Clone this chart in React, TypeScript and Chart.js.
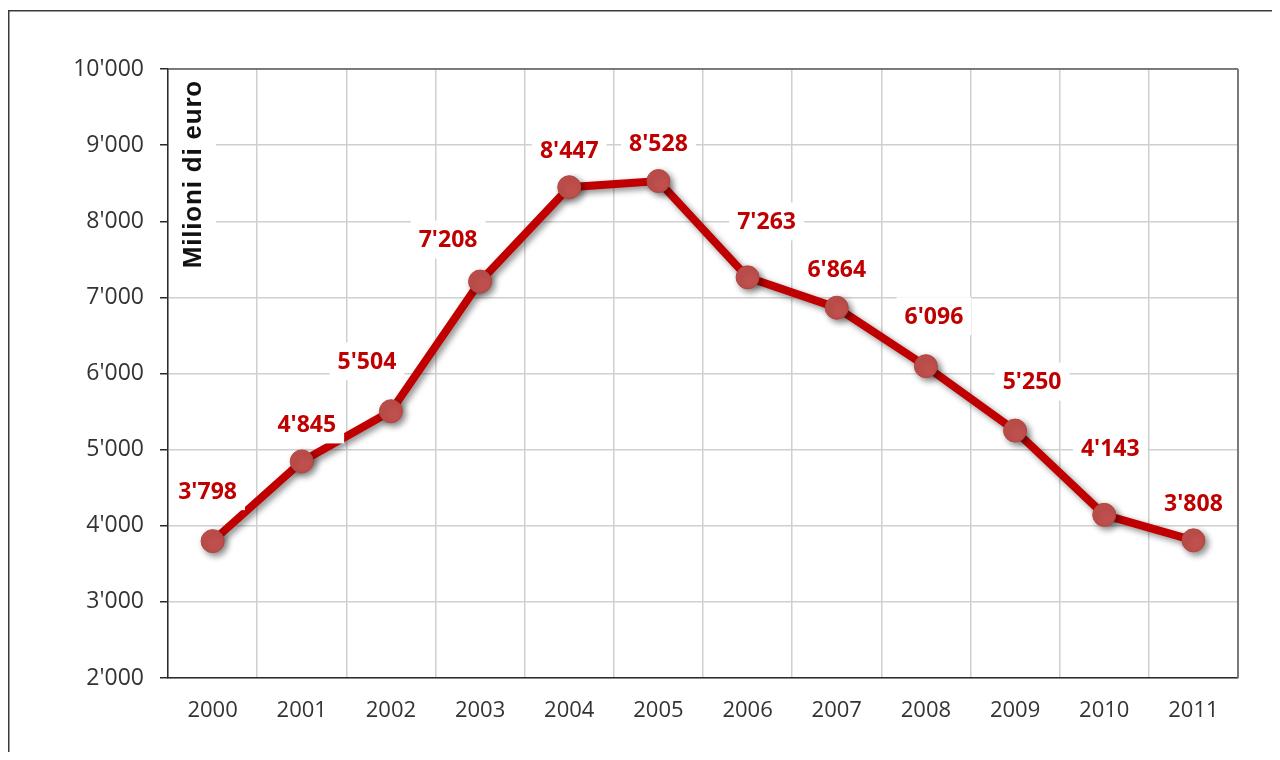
import React, { useEffect, useRef } from "react";
import { Chart, registerables } from "chart.js";

Chart.register(...registerables);

const years = ["2000", "2001", "2002", "2003", "2004", "2005", "2006", "2007", "2008", "2009", "2010", "2011"];
const values = [3798, 4845, 5504, 7208, 8447, 8528, 7263, 6864, 6096, 5250, 4143, 3808];
const yMin = 2000;
const yMax = 10000;
const yStep = 1000;
const yTitle = "Milioni di euro";
// label offsets relative to each point (styling, not data)
const labelDx = [-5, 5, -24, -32, 0, 0, 19, 0, 8, 17, 6, 0];
const labelDy = [-50, -37, -50, -42, -37, -38, -56, -38, -50, -49, -66, -37];

const fmt = (v: number) => String(v).replace(/\B(?=(\d{3})+(?!\d))/g, "'");

const W = 1264;
const H = 752;
const BOX_H = 744;

const decorPlugin = {
  id: "decor",
  beforeDraw(chart: any) {
    const ctx = chart.ctx;
    ctx.save();
    ctx.fillStyle = "#ffffff";
    ctx.fillRect(0, 0, W, H);
    ctx.strokeStyle = "#3a3a3a";
    ctx.lineWidth = 1.5;
    ctx.beginPath();
    ctx.moveTo(0.75, H);
    ctx.lineTo(0.75, 2.75);
    ctx.lineTo(W, 2.75);
    ctx.stroke();
    ctx.restore();
  },
  beforeDatasetsDraw(chart: any) {
    const ctx = chart.ctx;
    const a = chart.chartArea;
    ctx.save();
    ctx.lineWidth = 1.5;
    ctx.strokeStyle = "#5a5a5a";
    ctx.beginPath();
    ctx.moveTo(a.left, a.top);
    ctx.lineTo(a.right, a.top);
    ctx.stroke();
    ctx.strokeStyle = "#7a7a7a";
    ctx.lineWidth = 2;
    ctx.beginPath();
    ctx.moveTo(a.right, a.top);
    ctx.lineTo(a.right, a.bottom);
    ctx.stroke();
    ctx.fillStyle = "#ffffff";
    ctx.fillRect(a.left + 1, a.top + 2, 47, 210);
    ctx.translate(a.left + 26, a.top + 11);
    ctx.rotate(-Math.PI / 2);
    ctx.font = "bold 26px 'Liberation Sans', Arial, sans-serif";
    (ctx as any).letterSpacing = "0.8px";
    ctx.fillStyle = "#111111";
    ctx.textAlign = "right";
    ctx.textBaseline = "middle";
    ctx.fillText(yTitle, 0, 0);
    ctx.restore();
  },
  beforeDatasetDraw(chart: any) {
    const ctx = chart.ctx;
    ctx.save();
    ctx.shadowColor = "rgba(0,0,0,0.45)";
    ctx.shadowBlur = 6;
    ctx.shadowOffsetX = 3;
    ctx.shadowOffsetY = 3;
  },
  afterDatasetDraw(chart: any) {
    chart.ctx.restore();
  },
  afterDatasetsDraw(chart: any) {
    const ctx = chart.ctx;
    const meta = chart.getDatasetMeta(0);
    ctx.save();
    ctx.font = "bold 23px 'Open Sans', sans-serif";
    ctx.textAlign = "center";
    ctx.textBaseline = "middle";
    meta.data.forEach((pt: any, i: number) => {
      const txt = fmt(values[i]);
      const x = pt.x + labelDx[i];
      const y = pt.y + labelDy[i];
      const w = ctx.measureText(txt).width + 16;
      const h = 38;
      ctx.fillStyle = "#ffffff";
      ctx.fillRect(x - w / 2, y - h / 2, w, h);
      ctx.fillStyle = "#c00000";
      ctx.fillText(txt, x, y + 1);
    });
    ctx.restore();
  },
};

export default function App() {
  const ref = useRef<HTMLCanvasElement>(null);
  useEffect(() => {
    if (!ref.current) return;
    const chart = new Chart(ref.current, {
      type: "line",
      data: {
        labels: years,
        datasets: [
          {
            data: values,
            borderColor: "#c00000",
            borderWidth: 8,
            tension: 0,
            pointRadius: 11.5,
            pointHoverRadius: 11.5,
            pointBackgroundColor: "#c0504d",
            pointBorderColor: "#b5453f",
            pointBorderWidth: 1,
          },
        ],
      },
      options: {
        responsive: false,
        animation: false,
        events: [],
        layout: { padding: { left: 0, right: 34, top: 61, bottom: 8 } },
        plugins: { legend: { display: false }, tooltip: { enabled: false } },
        scales: {
          x: {
            offset: true,
            grid: { offset: true, color: "#d0d0d0", lineWidth: 1.5, drawTicks: false },
            border: { color: "#2a2a2a", width: 1.5 },
            ticks: { color: "#333333", font: { family: "'Open Sans', sans-serif", size: 22 }, padding: 20, maxRotation: 0 },
            afterFit: (s: any) => {
              s.height = 74;
            },
          },
          y: {
            min: yMin,
            max: yMax,
            grid: { color: "#d0d0d0", lineWidth: 1.5, tickLength: 8, tickColor: "#2a2a2a" },
            border: { color: "#2a2a2a", width: 1.5 },
            ticks: {
              stepSize: yStep,
              color: "#333333",
              font: { family: "'Open Sans', sans-serif", size: 23 },
              padding: 16,
              callback: (v: any) => fmt(Number(v)),
            },
            afterFit: (s: any) => {
              s.width = 160;
            },
          },
        },
      },
      plugins: [decorPlugin],
    });
    return () => chart.destroy();
  }, []);
  return (
    <div style={{ height: BOX_H }}>
      <canvas ref={ref} width={W} height={H} style={{ display: "block", width: W, height: H }} />
    </div>
  );
}
